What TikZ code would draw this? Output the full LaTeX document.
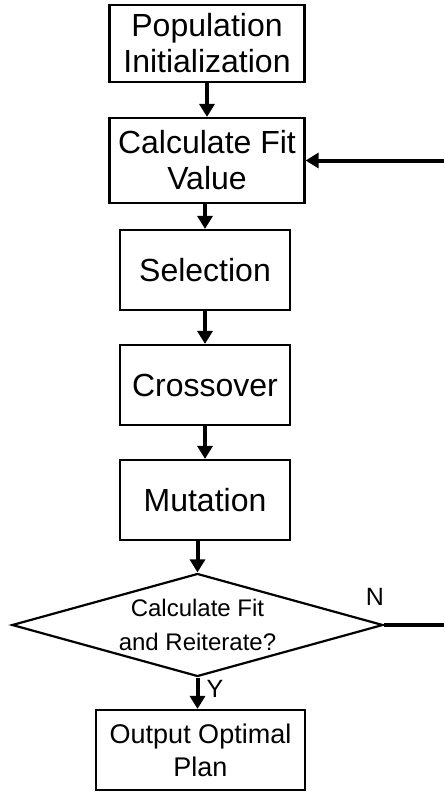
\documentclass[tikz,border=0pt]{standalone}
\usepackage{fontspec}
\setmainfont{Liberation Sans}
\usetikzlibrary{shapes.geometric,arrows.meta}

\begin{document}
\begin{tikzpicture}[
            x = 1pt, y = -1pt,
            box/.style = {draw, line width = 2.2pt, rectangle, align = center, inner sep = 0pt,
                          font = \fontsize{32}{36}\selectfont},
            decision/.style = {draw, line width = 2.2pt, diamond, aspect = 3.6, inner sep = 0pt,
                               minimum width = 371pt, minimum height = 103pt, align = center,
                               font = \fontsize{24}{34}\selectfont},
            flow/.style = {line width = 4pt, -{Triangle[length = 13pt, width = 15pt]}},
            plain/.style = {line width = 4pt},
            tag/.style = {font = \fontsize{25}{28}\selectfont}
            ]
            \useasboundingbox (0,0) rectangle (444,792);
            % main column
            \node[box, minimum width = 195pt, minimum height = 77pt] (init) at (207,43.5)
                {Population\\Initialization};
            \node[box, minimum width = 195pt, minimum height = 85pt] (fit) at (207,160.5)
                {Calculate Fit\\Value};
            \node[box, minimum width = 170pt, minimum height = 80pt] (sel) at (205,270) {Selection};
            \node[box, minimum width = 170pt, minimum height = 80pt] (cross) at (205,385) {Crossover};
            \node[box, minimum width = 170pt, minimum height = 80pt] (mut) at (205,500) {Mutation};
            \node[decision] (check) at (197.5,625) {Calculate Fit\\and Reiterate?};
            \node[box, minimum width = 209pt, minimum height = 80pt,
                  font = \fontsize{27}{33}\selectfont] (out) at (200.5,750)
                {Output Optimal\\Plan};
            % loop ends
            \coordinate (nend) at (444,625);
            \coordinate (back) at (444,160.5);
            % connectors
            \draw[flow] (init) -- (fit);
            \draw[flow] (fit.south -| sel.north) -- (sel);
            \draw[flow] (sel) -- (cross);
            \draw[flow] (cross) -- (mut);
            \draw[flow] (mut.south -| check.north) -- (check);
            \draw[flow] (check.south) -- (check.south |- out.north);
            \draw[plain] (check.east) -- (nend);
            \draw[flow] (back) -- (fit.east);
            % branch labels
            \node[tag] (no) at (375,597) {N};
            \node[tag] (yes) at (215,689) {Y};
          \end{tikzpicture}
\end{document}
